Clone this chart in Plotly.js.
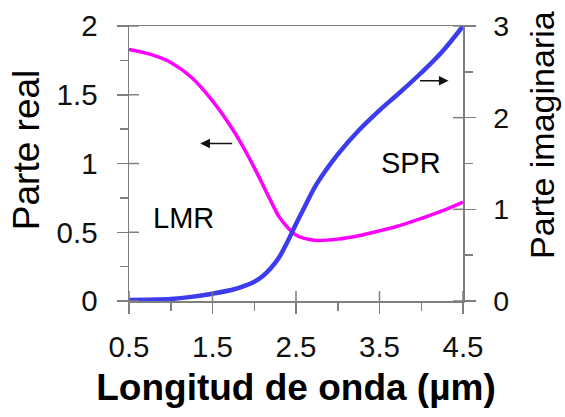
<!DOCTYPE html>
<html><head><meta charset="utf-8">
<script src="https://cdn.plot.ly/plotly-3.0.1.min.js"></script>
<style>html,body{margin:0;padding:0;background:#fff}#chart{width:565px;height:417px}</style>
</head><body><div id="chart"></div>
<script>
// Parte real (left axis)
const wavelengthReal = [0.5, 0.75, 1.0, 1.25, 1.5, 1.75, 1.9, 2.05, 2.2, 2.3, 2.4, 2.5, 2.6, 2.75, 3.0, 3.25, 3.5, 3.75, 4.0, 4.25, 4.5];
const realPart       = [1.83, 1.795, 1.735, 1.625, 1.455, 1.24, 1.085, 0.91, 0.725, 0.61, 0.535, 0.48, 0.455, 0.44, 0.45, 0.475, 0.51, 0.55, 0.60, 0.655, 0.72];
// Parte imaginaria (right axis)
const wavelengthImag = [0.5, 0.75, 1.0, 1.25, 1.5, 1.75, 1.9, 2.0, 2.1, 2.2, 2.3, 2.4, 2.5, 2.6, 2.75, 3.0, 3.25, 3.5, 3.75, 4.0, 4.25, 4.5];
const imagPart       = [0.01, 0.015, 0.022, 0.045, 0.08, 0.125, 0.17, 0.21, 0.27, 0.36, 0.48, 0.65, 0.84, 1.02, 1.28, 1.60, 1.86, 2.08, 2.28, 2.49, 2.72, 3.0];

const xTickVals = [0.5, 1.5, 2.5, 3.5, 4.5];
const xTickText = ['0.5', '1.5', '2.5', '3.5', '4.5'];
const xMinorVals = [1.0, 2.0, 3.0, 4.0];
const yLeftTickVals = [0, 0.5, 1, 1.5, 2];
const yLeftTickText = ['0', '0.5', '1', '1.5', '2'];
const yLeftMinorVals = [0.25, 0.75, 1.25, 1.75];
const yRightTickVals = [0, 1, 2, 3];
const yRightTickText = ['0', '1', '2', '3'];
const yRightMinorVals = [0.5, 1.5, 2.5];

const xTitle = 'Longitud de onda (µm)';
const yLeftTitle = 'Parte real';
const yRightTitle = 'Parte imaginaria';

const axisColor = '#7f7f7f';
const FONT = 'Liberation Sans, Arial, sans-serif';
const INNER_TICK = 10;

const traces = [
  {x: wavelengthReal, y: realPart, type: 'scatter', mode: 'lines', xaxis: 'x', yaxis: 'y',
   line: {color: '#ff00ff', width: 3.5, shape: 'spline', smoothing: 1}, hoverinfo: 'skip', showlegend: false},
  {x: wavelengthImag, y: imagPart, type: 'scatter', mode: 'lines', xaxis: 'x', yaxis: 'y2',
   line: {color: '#3c3cee', width: 4.5, shape: 'spline', smoothing: 1}, hoverinfo: 'skip', showlegend: false}
];

// inner half of the major "cross" ticks, positioned from the tick value arrays
const tickLine = {color: axisColor, width: 1.5};
const shapes = [];
xTickVals.forEach(v => shapes.push({type: 'line', xref: 'x', yref: 'paper', ysizemode: 'pixel', yanchor: 0,
  x0: v, x1: v, y0: 0, y1: INNER_TICK, line: tickLine, layer: 'above'}));
yLeftTickVals.forEach(v => shapes.push({type: 'line', xref: 'paper', yref: 'y', xsizemode: 'pixel', xanchor: 0,
  x0: 0, x1: INNER_TICK, y0: v, y1: v, line: tickLine, layer: 'above'}));
yRightTickVals.forEach(v => shapes.push({type: 'line', xref: 'paper', yref: 'y2', xsizemode: 'pixel', xanchor: 1,
  x0: -INNER_TICK, x1: 0, y0: v, y1: v, line: tickLine, layer: 'above'}));

const common = {showgrid: false, zeroline: false, fixedrange: true, automargin: false};

const layout = {
  width: 565, height: 417,
  margin: {l: 129, r: 102, t: 26, b: 116, pad: 0},
  paper_bgcolor: '#fff', plot_bgcolor: '#fff',
  showlegend: false,
  font: {family: FONT, color: '#111'},
  xaxis: Object.assign({}, common, {
    range: [0.5, 4.5], tickmode: 'array', tickvals: xTickVals, ticktext: xTickText,
    ticks: 'outside', ticklen: 11, tickwidth: 1.5, tickcolor: axisColor,
    showline: true, linecolor: axisColor, linewidth: 1.5, mirror: true,
    tickfont: {family: FONT, size: 29.5, color: '#111'}, ticklabelstandoff: 8,
    minor: {tickmode: 'array', tickvals: xMinorVals, ticks: 'outside', ticklen: 8, tickwidth: 1.5, tickcolor: axisColor, showgrid: false},
    title: {text: '<b>' + xTitle + '</b>', font: {family: FONT, size: 37, color: '#000'}, standoff: 12}
  }),
  yaxis: Object.assign({}, common, {
    range: [0, 2], tickmode: 'array', tickvals: yLeftTickVals, ticktext: yLeftTickText,
    ticks: 'outside', ticklen: 11, tickwidth: 1.5, tickcolor: axisColor,
    showline: true, linecolor: axisColor, linewidth: 1.5,
    tickfont: {family: FONT, size: 29.5, color: '#111'}, ticklabelstandoff: 13,
    minor: {tickmode: 'array', tickvals: yLeftMinorVals, ticks: 'outside', ticklen: 8, tickwidth: 1.5, tickcolor: axisColor, showgrid: false}
  }),
  yaxis2: Object.assign({}, common, {
    overlaying: 'y', side: 'right', anchor: 'x',
    range: [0, 3], tickmode: 'array', tickvals: yRightTickVals, ticktext: yRightTickText,
    ticks: 'outside', ticklen: 11, tickwidth: 1.5, tickcolor: axisColor,
    showline: true, linecolor: axisColor, linewidth: 1.5,
    tickfont: {family: FONT, size: 28.5, color: '#111'}, ticklabelstandoff: 12,
    minor: {tickmode: 'array', tickvals: yRightMinorVals, ticks: 'outside', ticklen: 8, tickwidth: 1.5, tickcolor: axisColor, showgrid: false}
  }),
  shapes: shapes,
  annotations: [
    {text: yLeftTitle, xref: 'paper', yref: 'paper', x: -0.308, y: 0.549, xanchor: 'center', yanchor: 'middle',
     textangle: -90, showarrow: false, font: {family: FONT, size: 37, color: '#000'}},
    {text: yRightTitle, xref: 'paper', yref: 'paper', x: 1.2365, y: 0.604, xanchor: 'center', yanchor: 'middle',
     textangle: -90, showarrow: false, font: {family: FONT, size: 34, color: '#000'}},
    {text: 'LMR', xref: 'x', yref: 'y', x: 1.154, y: 0.606, xanchor: 'center', yanchor: 'middle',
     showarrow: false, font: {family: FONT, size: 29, color: '#000'}},
    {text: 'SPR', xref: 'x', yref: 'y', x: 3.883, y: 1.006, xanchor: 'center', yanchor: 'middle',
     showarrow: false, font: {family: FONT, size: 29, color: '#000'}},
    {text: '', xref: 'x', yref: 'y', x: 1.354, y: 1.146, axref: 'x', ayref: 'y', ax: 1.753, ay: 1.146,
     showarrow: true, arrowhead: 2, arrowsize: 1.2, arrowwidth: 1.6, arrowcolor: '#111', standoff: 0, startstandoff: 0},
    {text: '', xref: 'x', yref: 'y', x: 4.327, y: 1.602, axref: 'x', ayref: 'y', ax: 3.968, ay: 1.602,
     showarrow: true, arrowhead: 2, arrowsize: 1.2, arrowwidth: 1.6, arrowcolor: '#111', standoff: 0, startstandoff: 0}
  ]
};

Plotly.newPlot('chart', traces, layout, {staticPlot: true, displayModeBar: false});
</script>
</body></html>
